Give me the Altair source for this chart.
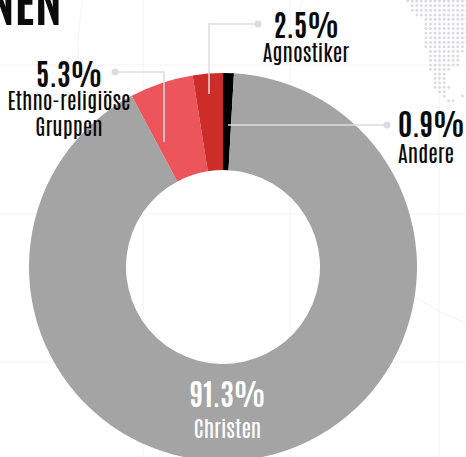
import math
import altair as alt
import pandas as pd

W, H = 466, 457
FONT = "Antonio"
INK = "#0b0b0b"
LEADER = "#dcdce4"
GRID = "#f3f3f6"

# Religious groups, clockwise from twelve o'clock
groups = ["Andere", "Christen", "Ethno-religiöse Gruppen", "Agnostiker"]
shares = [0.9, 91.3, 5.3, 2.5]
slice_colors = ["#000000", "#a4a4a4", "#ec565b", "#cd2d29"]

# Faint backdrop grid
grid_h = [65, 214, 362]
grid_v = [143, 290, 439]

# Faint curved map outlines: (id, x, y)
outline_points = [
    (0, 82, 0), (0, 79, 30), (0, 78, 60),
    (1, 303, 0), (1, 295, 25), (1, 291, 60),
    (2, 415, 297), (2, 440, 312), (2, 466, 323),
]

# Leader polylines: (id, x, y)
leader_points = [
    (0, 115, 72), (0, 164, 72), (0, 164, 142),
    (1, 258, 24), (1, 209, 24), (1, 209, 94),
    (2, 387, 125), (2, 228, 125),
]
leader_ends_x = [115, 258, 387]
leader_ends_y = [72, 24, 125]

# Dot map: first and last column of each row
dot_row_y = [1, 5.6, 10.3, 15, 19.3, 24, 28.6, 33, 37.7, 42.3, 46.7, 51.3, 56,
             60.3, 65, 69.3, 74, 78.3, 82.7, 87.3, 91.7]
dot_row_first = [0, 1, 1, 2, 4, 4, 4, 4, 4, 4, 4, 5, 5, 5, 5, 5, 6, 6, 6, 6, 7]
dot_row_last = [13, 13, 13, 13, 13, 13, 13, 13, 13, 13, 12, 12, 11, 11, 11, 9, 8, 8, 8, 9, 8]
dot_extra = [(8, 96), (12, 96), (9, 100.7), (10, 100.7)]
dot_x0, dot_step = 407.7, 4.55

dots = []
for y, first, last in zip(dot_row_y, dot_row_first, dot_row_last):
    for col in range(first, last + 1):
        dots.append({"x": dot_x0 + col * dot_step, "y": y})
for col, y in dot_extra:
    dots.append({"x": dot_x0 + col * dot_step, "y": y})

# Labels: text, x, baseline y, size, colour
centered_labels = [
    ("5.3%", 69, 87, 29, INK),
    ("Ethno-religiöse", 69, 110, 22, INK),
    ("Gruppen", 69, 136, 22, INK),
    ("2.5%", 306, 38, 29, INK),
    ("Agnostiker", 306, 62, 22, INK),
    ("91.3%", 227.5, 407, 29, "#ffffff"),
    ("Christen", 227.5, 438, 22, "#ffffff"),
]
left_labels = [
    ("0.9%", 398, 137, 29, INK),
    ("Andere", 398, 163, 22, INK),
]
title_right = [("NEN", 62, 25, 52, INK)]

x_pos = alt.Scale(domain=[0, W], range=[0, W])
y_pos = alt.Scale(domain=[0, H], range=[0, H])
X = lambda f="x": alt.X(f"{f}:Q", scale=x_pos, axis=None)
Y = lambda f="y": alt.Y(f"{f}:Q", scale=y_pos, axis=None)


def rules(values, horizontal):
    df = pd.DataFrame({"v": values})
    enc = {"y": Y("v")} if horizontal else {"x": X("v")}
    return alt.Chart(df).mark_rule(color=GRID, strokeWidth=1).encode(**enc)


def polylines(points, color, width):
    df = pd.DataFrame(points, columns=["id", "x", "y"])
    df["o"] = range(len(df))
    return alt.Chart(df).mark_line(color=color, strokeWidth=width).encode(
        x=X(), y=Y(), detail="id:N", order="o:Q"
    )


def labels(rows, align):
    df = pd.DataFrame(rows, columns=["t", "x", "y", "s", "c"])
    layers = []
    for size, part in df.groupby("s"):
        for color, sub in part.groupby("c"):
            layers.append(
                alt.Chart(sub)
                .mark_text(
                    font=FONT,
                    fontSize=int(size),
                    fontWeight="bold" if size > 24 else "normal",
                    align=align,
                    baseline="alphabetic",
                    color=color,
                )
                .encode(x=X(), y=Y(), text="t:N")
            )
    return layers


donut_df = pd.DataFrame(
    {"group": groups, "share": shares, "color": slice_colors, "o": range(len(groups))}
)
donut = (
    alt.Chart(donut_df)
    .mark_arc(outerRadius=194, innerRadius=97)
    .encode(
        theta=alt.Theta(
            "share:Q", stack=True, scale=alt.Scale(domain=[0, 100], range=[0, 2 * math.pi])
        ),
        color=alt.Color("color:N", scale=None),
        order=alt.Order("o:Q"),
        x=alt.value(223),
        y=alt.value(267),
    )
)

dot_map = (
    alt.Chart(pd.DataFrame(dots))
    .mark_circle(size=9, color=LEADER, opacity=1)
    .encode(x=X(), y=Y())
)

ends = (
    alt.Chart(pd.DataFrame({"x": leader_ends_x, "y": leader_ends_y}))
    .mark_circle(size=50, color=LEADER, opacity=1)
    .encode(x=X(), y=Y())
)

chart = alt.layer(
    rules(grid_h, True),
    rules(grid_v, False),
    polylines(outline_points, GRID, 1),
    dot_map,
    donut,
    polylines(leader_points, LEADER, 1.5),
    ends,
    *labels(centered_labels, "center"),
    *labels(left_labels, "left"),
    *labels(title_right, "right"),
).properties(
    width=W,
    height=H,
    padding=0,
    autosize=alt.AutoSizeParams(type="none"),
    background="#ffffff",
).configure_view(stroke=None)

chart.save("out.html", embed_options={"renderer": "svg", "actions": False})
